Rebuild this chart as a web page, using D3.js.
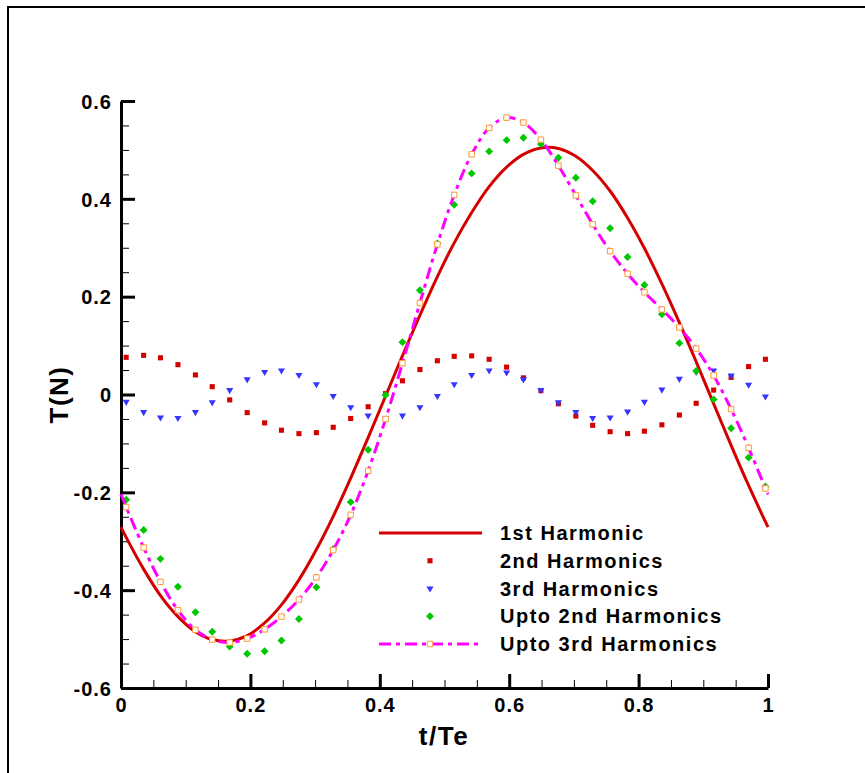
<!DOCTYPE html>
<html>
<head>
<meta charset="utf-8">
<script src="https://cdn.jsdelivr.net/npm/d3@7"></script>
<style>
  html, body { margin: 0; padding: 0; background: #fff; }
  svg { display: block; font-family: "Liberation Sans", Arial, sans-serif; font-weight: bold; }
</style>
</head>
<body>
<div id="chart"></div>
<script>
// t/Te sample positions (symbols drawn at the inner ones)
const tVals = [0, 0.008, 0.035, 0.061, 0.088, 0.115, 0.141, 0.168, 0.195, 0.222, 0.248,
  0.275, 0.302, 0.328, 0.355, 0.382, 0.409, 0.435, 0.462, 0.489, 0.515, 0.542, 0.569,
  0.596, 0.622, 0.649, 0.676, 0.703, 0.729, 0.756, 0.783, 0.809, 0.836, 0.863, 0.889,
  0.916, 0.943, 0.970, 0.996, 1];

const harm1 = [-0.271, -0.292, -0.357, -0.411, -0.454, -0.485, -0.501, -0.504, -0.493, -0.467,
  -0.430, -0.379, -0.317, -0.249, -0.171, -0.088, -0.003, 0.079, 0.162, 0.241, 0.310, 0.372,
  0.425, 0.465, 0.491, 0.504, 0.503, 0.487, 0.458, 0.416, 0.361, 0.299, 0.226, 0.147, 0.067,
  -0.019, -0.104, -0.186, -0.260, -0.271];

const harm2 = [0.074, 0.076, 0.080, 0.075, 0.061, 0.040, 0.016, -0.011, -0.037, -0.058, -0.073,
  -0.080, -0.078, -0.067, -0.049, -0.025, 0.002, 0.028, 0.051, 0.069, 0.078, 0.079, 0.072,
  0.056, 0.034, 0.008, -0.019, -0.044, -0.063, -0.076, -0.080, -0.075, -0.062, -0.042, -0.018,
  0.009, 0.035, 0.057, 0.072, 0.074];

const harm3 = [-0.007, -0.015, -0.036, -0.047, -0.048, -0.036, -0.016, 0.009, 0.031, 0.046,
  0.049, 0.040, 0.021, -0.003, -0.026, -0.043, -0.049, -0.043, -0.026, -0.003, 0.021, 0.040,
  0.049, 0.045, 0.031, 0.009, -0.016, -0.036, -0.048, -0.047, -0.035, -0.015, 0.010, 0.032,
  0.046, 0.049, 0.039, 0.020, -0.004, -0.007];

const upto2 = [-0.197, -0.215, -0.277, -0.336, -0.393, -0.445, -0.485, -0.515, -0.530, -0.525,
  -0.503, -0.459, -0.394, -0.316, -0.220, -0.113, -0.001, 0.107, 0.213, 0.309, 0.388, 0.452,
  0.497, 0.520, 0.525, 0.512, 0.484, 0.443, 0.395, 0.340, 0.281, 0.224, 0.164, 0.105, 0.048,
  -0.010, -0.069, -0.129, -0.188, -0.197];

const upto3 = [-0.204, -0.230, -0.313, -0.383, -0.441, -0.481, -0.501, -0.507, -0.499, -0.480,
  -0.454, -0.419, -0.374, -0.318, -0.246, -0.156, -0.050, 0.064, 0.187, 0.307, 0.408, 0.491,
  0.545, 0.566, 0.556, 0.521, 0.468, 0.407, 0.348, 0.293, 0.247, 0.209, 0.174, 0.137, 0.094,
  0.039, -0.030, -0.109, -0.192, -0.204];

const xTicks = [0, 0.2, 0.4, 0.6, 0.8, 1];
const yTicks = [-0.6, -0.4, -0.2, 0, 0.2, 0.4, 0.6];
const legendNames = ['1st Harmonic', '2nd Harmonics', '3rd Harmonics', 'Upto 2nd Harmonics', 'Upto 3rd Harmonics'];

const width = 865;
const height = 773;

const red = '#d40000';
const blue = '#3535ff';
const green = '#00c800';
const magenta = '#ff00ff';
const orange = '#ff9933';

const svg = d3.select('#chart').append('svg')
  .attr('width', width)
  .attr('height', height);

// outer frame (runs off the right / bottom edge)
svg.append('rect')
  .attr('x', 8).attr('y', 7)
  .attr('width', 900).attr('height', 820)
  .attr('fill', 'none').attr('stroke', '#000').attr('stroke-width', 2);

const x = d3.scaleLinear().domain([0, 1]).range([121, 768]);
const y = d3.scaleLinear().domain([-0.6, 0.6]).range([688, 101]);

const pts = (vals) => tVals.map((t, i) => ({ t, v: vals[i] }));
const inner = (vals) => pts(vals).filter(d => d.t > 0 && d.t < 1);

const line = d3.line()
  .x(d => x(d.t))
  .y(d => y(d.v))
  .curve(d3.curveCatmullRom);

// minor ticks
const minorX = d3.range(0, 1.0001, 0.05).filter(v => Math.abs(v * 5 - Math.round(v * 5)) > 1e-6);
const minorY = d3.range(-0.6, 0.6001, 0.05).filter(v => Math.abs(v * 5 - Math.round(v * 5)) > 1e-6);

svg.append('g')
  .attr('transform', `translate(0,${y(-0.6)})`)
  .call(d3.axisBottom(x).tickValues(minorX).tickSize(-8).tickFormat(''))
  .call(g => g.select('.domain').remove())
  .call(g => g.selectAll('line').attr('stroke', '#000').attr('stroke-width', 1));

svg.append('g')
  .attr('transform', `translate(${x(0)},0)`)
  .call(d3.axisLeft(y).tickValues(minorY).tickSize(-8).tickFormat(''))
  .call(g => g.select('.domain').remove())
  .call(g => g.selectAll('line').attr('stroke', '#000').attr('stroke-width', 1));

// major axes (plain hyphen for negatives, as in the original)
const fmt = d => (d === 0 ? '0' : d === 1 ? '1' : d.toFixed(1));

const xAxisG = svg.append('g')
  .attr('transform', `translate(0,${y(-0.6)})`)
  .call(d3.axisBottom(x).tickValues(xTicks).tickSize(-14).tickSizeOuter(0).tickPadding(10).tickFormat(fmt));

const yAxisG = svg.append('g')
  .attr('transform', `translate(${x(0)},0)`)
  .call(d3.axisLeft(y).tickValues(yTicks).tickSize(-14).tickSizeOuter(0).tickPadding(9).tickFormat(fmt));

[xAxisG, yAxisG].forEach(g => {
  g.select('.domain').attr('stroke', '#000').attr('stroke-width', 3);
  g.selectAll('.tick line').attr('stroke', '#000').attr('stroke-width', 3);
  g.selectAll('.tick text')
    .attr('fill', '#000')
    .style('font-size', '20px')
    .style('font-weight', 'bold')
    .style('letter-spacing', '1px')
    .style('font-family', '"Liberation Sans", Arial, sans-serif');
});
yAxisG.selectAll('.tick text').attr('dy', '0.36em');

// axis titles
svg.append('text')
  .attr('x', 444).attr('y', 745)
  .attr('text-anchor', 'middle')
  .style('font-size', '26px')
  .style('letter-spacing', '1.5px')
  .text('t/Te');

svg.append('text')
  .attr('transform', `translate(68,${y(0)}) rotate(-90)`)
  .attr('text-anchor', 'middle')
  .style('font-size', '26px')
  .style('letter-spacing', '1.5px')
  .text('T(N)');

// symbols
const sq = d3.symbol().type(d3.symbolSquare).size(26);
const dia = d3.symbol().type(d3.symbolDiamond2).size(40);
const tri = d3.symbol().type(d3.symbolTriangle2).size(36);
const osq = d3.symbol().type(d3.symbolSquare).size(30);

// 1st harmonic line
svg.append('path')
  .datum(pts(harm1))
  .attr('d', line)
  .attr('fill', 'none')
  .attr('stroke', red)
  .attr('stroke-width', 3);

// 2nd harmonic squares
svg.append('g').selectAll('path')
  .data(inner(harm2))
  .join('path')
  .attr('transform', d => `translate(${x(d.t)},${y(d.v)})`)
  .attr('d', sq)
  .attr('fill', red);

// 3rd harmonic triangles (pointing down)
svg.append('g').selectAll('path')
  .data(inner(harm3))
  .join('path')
  .attr('transform', d => `translate(${x(d.t)},${y(d.v)}) rotate(180)`)
  .attr('d', tri)
  .attr('fill', blue);

// upto 2nd diamonds
svg.append('g').selectAll('path')
  .data(inner(upto2))
  .join('path')
  .attr('transform', d => `translate(${x(d.t)},${y(d.v)})`)
  .attr('d', dia)
  .attr('fill', green);

// upto 3rd dash-dot line + hollow squares
svg.append('path')
  .datum(pts(upto3))
  .attr('d', line)
  .attr('fill', 'none')
  .attr('stroke', magenta)
  .attr('stroke-width', 3)
  .attr('stroke-dasharray', '12,5,4,5');

svg.append('g').selectAll('path')
  .data(inner(upto3))
  .join('path')
  .attr('transform', d => `translate(${x(d.t)},${y(d.v)})`)
  .attr('d', osq)
  .attr('fill', '#fff')
  .attr('stroke', orange)
  .attr('stroke-width', 1);

// legend
const legY = d3.scalePoint().domain(legendNames).range([533, 644]);
const leg = svg.append('g');
const lx0 = 379, lx1 = 482, lxm = 430;

legendNames.forEach((name, i) => {
  const yy = legY(name);
  const g = leg.append('g');
  if (i === 0) {
    g.append('line').attr('x1', lx0).attr('x2', lx1).attr('y1', yy).attr('y2', yy)
      .attr('stroke', red).attr('stroke-width', 3);
  } else if (i === 1) {
    g.append('path').attr('transform', `translate(${lxm},${yy})`).attr('d', sq).attr('fill', red);
  } else if (i === 2) {
    g.append('path').attr('transform', `translate(${lxm},${yy}) rotate(180)`).attr('d', tri).attr('fill', blue);
  } else if (i === 3) {
    g.append('path').attr('transform', `translate(${lxm},${yy})`).attr('d', dia).attr('fill', green);
  } else {
    g.append('line').attr('x1', lx0).attr('x2', lx1).attr('y1', yy).attr('y2', yy)
      .attr('stroke', magenta).attr('stroke-width', 3).attr('stroke-dasharray', '12,5,4,5');
    g.append('path').attr('transform', `translate(${lxm},${yy})`).attr('d', osq)
      .attr('fill', '#fff').attr('stroke', orange).attr('stroke-width', 1);
  }
  g.append('text')
    .attr('x', 500).attr('y', yy + 7)
    .style('font-size', '20px')
    .style('letter-spacing', '1.5px')
    .text(name);
});
</script>
</body>
</html>
